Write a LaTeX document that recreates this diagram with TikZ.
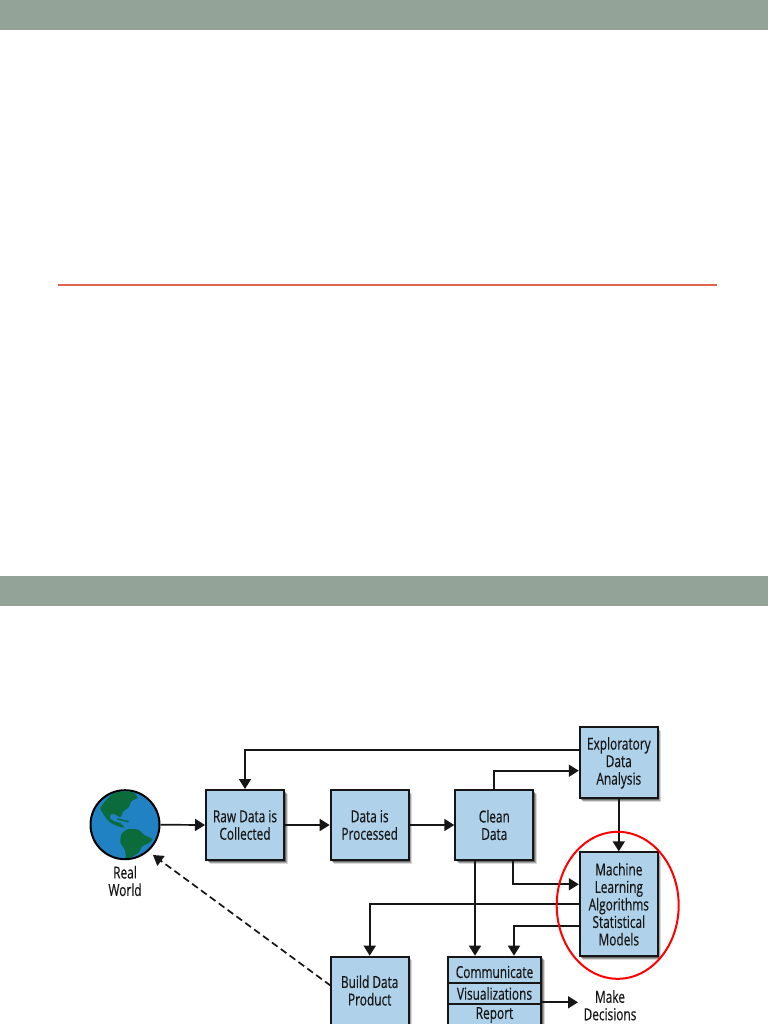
\documentclass[tikz,border=0pt]{standalone}
\usepackage{fontspec}
\setmainfont[FakeStretch=0.72,FakeBold=0.35]{Open Sans}
\usetikzlibrary{shadows,arrows.meta,shapes.geometric}
\definecolor{barc}{HTML}{93A398}
\definecolor{rulec}{HTML}{E2644F}
\definecolor{boxc}{HTML}{AFD1EA}
\definecolor{linec}{HTML}{161616}
\definecolor{seac}{HTML}{2081C3}
\definecolor{landc}{HTML}{0B6B3A}
\tikzset{
  flowbox/.style={draw=linec,line width=2pt,fill=boxc,minimum width=78pt,align=center,inner sep=0pt,
    font=\fontsize{16.5}{17.5}\selectfont,text=linec,
    drop shadow={shadow xshift=3.5pt,shadow yshift=-3.5pt,fill=black,opacity=.15},
    drop shadow={shadow xshift=2.5pt,shadow yshift=-2.5pt,fill=black,opacity=.25},
    drop shadow={shadow xshift=1.5pt,shadow yshift=-1.5pt,fill=black,opacity=.35}},
  flowlabel/.style={align=center,inner sep=0pt,font=\fontsize{16.5}{17.5}\selectfont,text=linec},
  conn/.style={draw=linec,line width=1.7pt,-{Triangle[length=10pt,width=12pt]}},
  dashconn/.style={conn,dash pattern=on 7pt off 4pt},
  bar/.style={fill=barc,draw=none},
}
\begin{document}
\begin{tikzpicture}[x=1pt,y=-1pt]
\useasboundingbox (0,0) rectangle (768,1024);
\begin{scope}
\clip (0,0) rectangle (768,1024);
\fill[white] (0,0) rectangle (768,1024);
\path[bar] (0,0) rectangle (768,30);
\path[bar] (0,576) rectangle (768,606);
\draw[rulec,line width=1.2pt] (58,285) -- (717,285);

\node[flowbox,minimum height=70pt] (raw) at (245,825) {Raw Data is\\Collected};
\node[flowbox,minimum height=70pt] (proc) at (369.7,825) {Data is\\Processed};
\node[flowbox,minimum height=70pt] (clean) at (494.3,825) {Clean\\Data};
\node[flowbox,minimum height=71pt] (eda) at (618.8,762.8) {Exploratory\\Data\\Analysis};
\node[flowbox,minimum height=103.7pt] (ml) at (618.8,904.2) {Machine\\Learning\\Algorithms\\Statistical\\Models};
\node[flowbox,minimum height=110pt,anchor=north] (build) at (369.7,955.7) {};
\node[flowlabel] (buildt) at (369.7,990.5) {Build Data\\Product};
\node[flowbox,minimum width=93.6pt,minimum height=110pt,anchor=north] (comm) at (494.5,955.7) {};
\node[flowlabel] (commt) at (494.5,972) {Communicate};
\node[flowlabel] (vist) at (494.5,993.5) {Visualizations};
\node[flowlabel] (rept) at (494.5,1015) {Report};
\draw[linec,line width=2pt] (comm.west |- 0,983) -- (comm.east |- 0,983);
\draw[linec,line width=2pt] (comm.west |- 0,1004.3) -- (comm.east |- 0,1004.3);

\node[circle,draw=black,line width=2pt,fill=seac,minimum size=69pt,inner sep=0pt] (world) at (125,824.7) {};
\begin{scope}[shift={(85,785)},x=1/3*1pt,y=-1/3*1pt]
\clip (120,119) circle (100);
\fill[landc] plot[smooth cycle,tension=.35] coordinates {(46,68) (72,36) (100,18) (142,20) (158,38) (140,48) (130,68) (116,78) (106,96) (90,88) (78,88) (75,100) (90,110) (106,114) (118,128) (100,124) (78,114) (62,98) (52,82)};
\fill[landc] plot[smooth cycle,tension=.35] coordinates {(110,146) (130,132) (160,134) (178,150) (202,162) (192,174) (172,184) (160,204) (140,216) (124,226) (120,196) (106,172)};
\fill[landc] (98,100) -- (132,108) -- (128,112) -- (96,104) -- cycle;
\end{scope}
\node[flowlabel] (rw) at (125,881) {Real\\World};
\node[flowlabel] (dec) at (610,1005.3) {Make\\Decisions};

\coordinate (edaout) at (eda.west |- 0,750);
\coordinate (edain) at (eda.west |- 0,770.7);
\coordinate (cleanup) at (clean.north);
\coordinate (cleanml) at (513.3,860);
\coordinate (mlin) at (ml.west |- 0,884.3);
\coordinate (cleancomm) at (475,860);
\coordinate (commin) at (475,955.7);
\coordinate (mlbuild) at (ml.west |- 0,903.7);
\coordinate (mlcomm) at (ml.west |- 0,925.7);
\coordinate (commin2) at (514,955.7);
\coordinate (commout) at (541.3,1002.3);
\coordinate (decin) at (578,1002.3);
\coordinate (buildout) at (330.7,985.7);
\coordinate (worldin) at (153,855);

\draw[conn] (world.east) -- (raw.west);
\draw[conn] (raw.east) -- (proc.west);
\draw[conn] (proc.east) -- (clean.west);
\draw[conn] (edaout) -| (raw.north);
\draw[conn] (cleanup) |- (edain);
\draw[conn] (eda.south) -- (ml.north);
\draw[conn] (cleanml) |- (mlin);
\draw[conn] (cleancomm) -- (commin);
\draw[conn] (mlbuild) -| (build.north);
\draw[conn] (mlcomm) -| (commin2);
\draw[conn] (commout) -- (decin);
\draw[dashconn] (buildout) -- (worldin);
\node[ellipse,draw=red,line width=2pt,minimum width=122pt,minimum height=147pt,inner sep=0pt] (oval) at (617.7,905.3) {};
\end{scope}
\end{tikzpicture}
\end{document}
